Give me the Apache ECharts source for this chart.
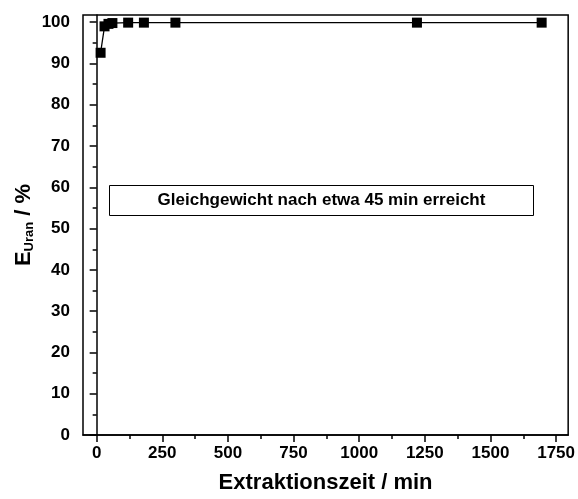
<!DOCTYPE html>
<html>
<head>
<meta charset="utf-8">
<script src="https://cdn.jsdelivr.net/npm/echarts@6/dist/echarts.min.js"></script>
<style>html,body{margin:0;padding:0;background:#fff;}#c{width:578px;height:499px;}</style>
</head>
<body>
<div id="c"></div>
<script>
var timeMin = [15, 30, 45, 60, 120, 180, 300, 1220, 1695];
var extraction = [92.6, 99.0, 99.6, 99.8, 99.9, 99.9, 99.9, 99.9, 99.9];
var xTicks = [0, 250, 500, 750, 1000, 1250, 1500, 1750];
var xMinorTicks = [125, 375, 625, 875, 1125, 1375, 1625];
var yTicks = [0, 10, 20, 30, 40, 50, 60, 70, 80, 90, 100];
var yMinorTicks = [5, 15, 25, 35, 45, 55, 65, 75, 85, 95];
var noteText = 'Gleichgewicht nach etwa 45 min erreicht';

var FONT = 'Arial, "Liberation Sans", sans-serif';
var chart = echarts.init(document.getElementById('c'), null, {renderer: 'canvas'});
var X_MIN = -52, X_MAX = 1796, Y_MIN = 0, Y_MAX = 101.75;
function plain(v) { return String(v); }

chart.setOption({
  backgroundColor: '#fff',
  animation: false,
  grid: {left: 83, right: 8.5, top: 15, bottom: 60, show: true, borderColor: '#000', borderWidth: 1.5, backgroundColor: 'transparent'},
  xAxis: [{
    type: 'value', min: X_MIN, max: X_MAX,
    name: 'Extraktionszeit / min', nameLocation: 'middle', nameGap: 37,
    nameTextStyle: {fontFamily: FONT, fontWeight: 'bold', fontSize: 22, color: '#000'},
    axisLine: {show: true, lineStyle: {color: '#000', width: 1.5}},
    axisTick: {show: true, inside: false, length: 7, customValues: xTicks, lineStyle: {color: '#000', width: 1.5}},
    axisLabel: {customValues: xTicks, formatter: plain, margin: 10, fontFamily: FONT, fontWeight: 'bold', fontSize: 17, color: '#000'},
    splitLine: {show: false}
  }, {
    type: 'value', min: X_MIN, max: X_MAX, position: 'bottom',
    axisLine: {show: false},
    axisTick: {show: true, length: 4, customValues: xMinorTicks, lineStyle: {color: '#000', width: 1.5}},
    axisLabel: {show: false}, splitLine: {show: false}
  }],
  yAxis: [{
    type: 'value', min: Y_MIN, max: Y_MAX,
    name: '{e|E}{s|Uran}{e| / %}', nameLocation: 'middle', nameGap: 47, nameRotate: 90,
    nameMoveOverlap: false,
    nameTextStyle: {
      color: '#000',
      rich: {
        e: {fontFamily: FONT, fontWeight: 'bold', fontSize: 22, color: '#000'},
        s: {fontFamily: FONT, fontWeight: 'bold', fontSize: 13, color: '#000', verticalAlign: 'bottom', padding: [11, 0, 0, 0]}
      }
    },
    axisLine: {show: true, lineStyle: {color: '#000', width: 1.5}},
    axisTick: {show: true, length: 7, customValues: yTicks, lineStyle: {color: '#000', width: 1.5}},
    axisLabel: {customValues: yTicks, formatter: plain, margin: 13, fontFamily: FONT, fontWeight: 'bold', fontSize: 17, color: '#000'},
    splitLine: {show: false}
  }, {
    type: 'value', min: Y_MIN, max: Y_MAX, position: 'left',
    axisLine: {show: false},
    axisTick: {show: true, length: 4, customValues: yMinorTicks, lineStyle: {color: '#000', width: 1.5}},
    axisLabel: {show: false}, splitLine: {show: false}
  }],
  graphic: [{
    type: 'group', left: 109, top: 185,
    children: [
      {type: 'rect', shape: {x: 0, y: 0, width: 424, height: 30}, style: {fill: '#fff', stroke: '#000', lineWidth: 1}},
      {type: 'text', x: 212, y: 15, style: {text: noteText, font: 'bold 17px ' + FONT, fill: '#000', align: 'center', verticalAlign: 'middle'}}
    ]
  }],
  series: [{
    type: 'line',
    data: timeMin.map(function (t, i) { return [t, extraction[i]]; }),
    symbol: 'rect', symbolSize: 10,
    lineStyle: {color: '#000', width: 1.3},
    itemStyle: {color: '#000', borderWidth: 0},
    z: 5
  }]
});
</script>
</body>
</html>
